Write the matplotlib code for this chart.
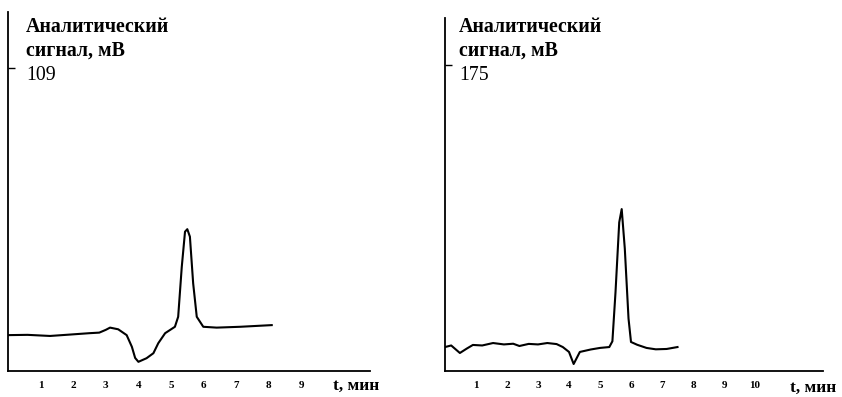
import matplotlib
matplotlib.use("Agg")
import matplotlib.pyplot as plt

# Data (time in minutes, analytic signal in mV)
t_left = [0.0, 0.6, 1.29, 1.9, 2.5, 2.8, 3.0, 3.13, 3.38, 3.64, 3.8, 3.9, 4.0, 4.25, 4.46,
          4.61, 4.82, 5.12, 5.22, 5.33, 5.43, 5.5, 5.58, 5.68, 5.79, 5.99, 6.4, 7.12, 8.09]
v_left = [12.9, 13.0, 12.6, 13.1, 13.6, 13.8, 14.8, 15.6, 15.0, 12.9, 8.7, 4.7, 3.3, 4.6, 6.4,
          10.0, 13.6, 15.9, 19.5, 37.4, 50.1, 51.0, 48.3, 31.5, 19.5, 15.9, 15.6, 15.9, 16.5]

t_right = [0.0, 0.2, 0.48, 0.7, 0.9, 1.2, 1.55, 1.9, 2.2, 2.4, 2.7, 3.0, 3.3, 3.6, 3.8, 4.0,
           4.15, 4.35, 4.7, 5.0, 5.3, 5.4, 5.5, 5.62, 5.7, 5.8, 5.92, 6.0, 6.2, 6.5, 6.8, 7.15, 7.5]
v_right = [13.7, 14.6, 10.3, 12.8, 14.9, 14.6, 16.0, 15.2, 15.6, 14.3, 15.5, 15.2, 16.0, 15.4, 13.7, 10.9,
           4.0, 10.9, 12.3, 13.2, 13.7, 17.0, 45.0, 85.0, 92.6, 70.0, 30.0, 16.6, 15.0, 13.2, 12.4, 12.6, 13.7]

xticks_left = [1, 2, 3, 4, 5, 6, 7, 8, 9]
xticks_right = [1, 2, 3, 4, 5, 6, 7, 8, 9, 10]
ytick_left = 109
ytick_right = 175
ylabel_lines = ["Аналитический", "сигнал, мВ"]
xlabel = "t, мин"

W, H = 842, 397
fig = plt.figure(figsize=(W / 100, H / 100), dpi=100)

serif = ["Liberation Serif", "DejaVu Serif"]


def make_panel(px_left, px_right, px_top, px_bottom, xmax, ymax, t, v, xticks, ytick,
               text_x, xlabel_x, xlabel_y):
    ax = fig.add_axes([px_left / W, (H - px_bottom) / H,
                       (px_right - px_left) / W, (px_bottom - px_top) / H])
    ax.plot(t, v, color="black", lw=1.5, solid_joinstyle="round")
    ax.set_xlim(0, xmax)
    ax.set_ylim(0, ymax)
    for s in ["top", "right"]:
        ax.spines[s].set_visible(False)
    for s in ["left", "bottom"]:
        ax.spines[s].set_linewidth(1.3)
    ax.set_xticks(xticks)
    ax.set_xticklabels([str(x) for x in xticks], fontfamily=serif, fontweight="bold", fontsize=8)
    ax.tick_params(axis="x", length=0, pad=7)
    ax.set_yticks([ytick])
    ax.tick_params(axis="y", direction="in", length=5, width=1.0, labelleft=False)
    for i, line in enumerate(ylabel_lines):
        fig.text(text_x / W, 1 - (32 + 24 * i) / H, line, ha="left", va="baseline",
                 fontsize=14.3, fontfamily=serif, fontweight="bold")
    fig.text(text_x / W, 1 - 80 / H, str(ytick), ha="left", va="baseline", fontsize=14.3,
             fontfamily=serif)
    fig.text(xlabel_x / W, 1 - xlabel_y / H, xlabel, ha="left", va="center", fontsize=12.5,
             fontfamily=serif, fontweight="bold")
    return ax


make_panel(8, 370, 12, 371, 362 / 32.6, 129.1, t_left, v_left, xticks_left, ytick_left,
           26, 333, 386)
make_panel(445, 823, 18, 371, 378 / 31.0, 201.9, t_right, v_right, xticks_right, ytick_right,
           459, 790, 388)

fig.savefig("out.png", dpi=100)
